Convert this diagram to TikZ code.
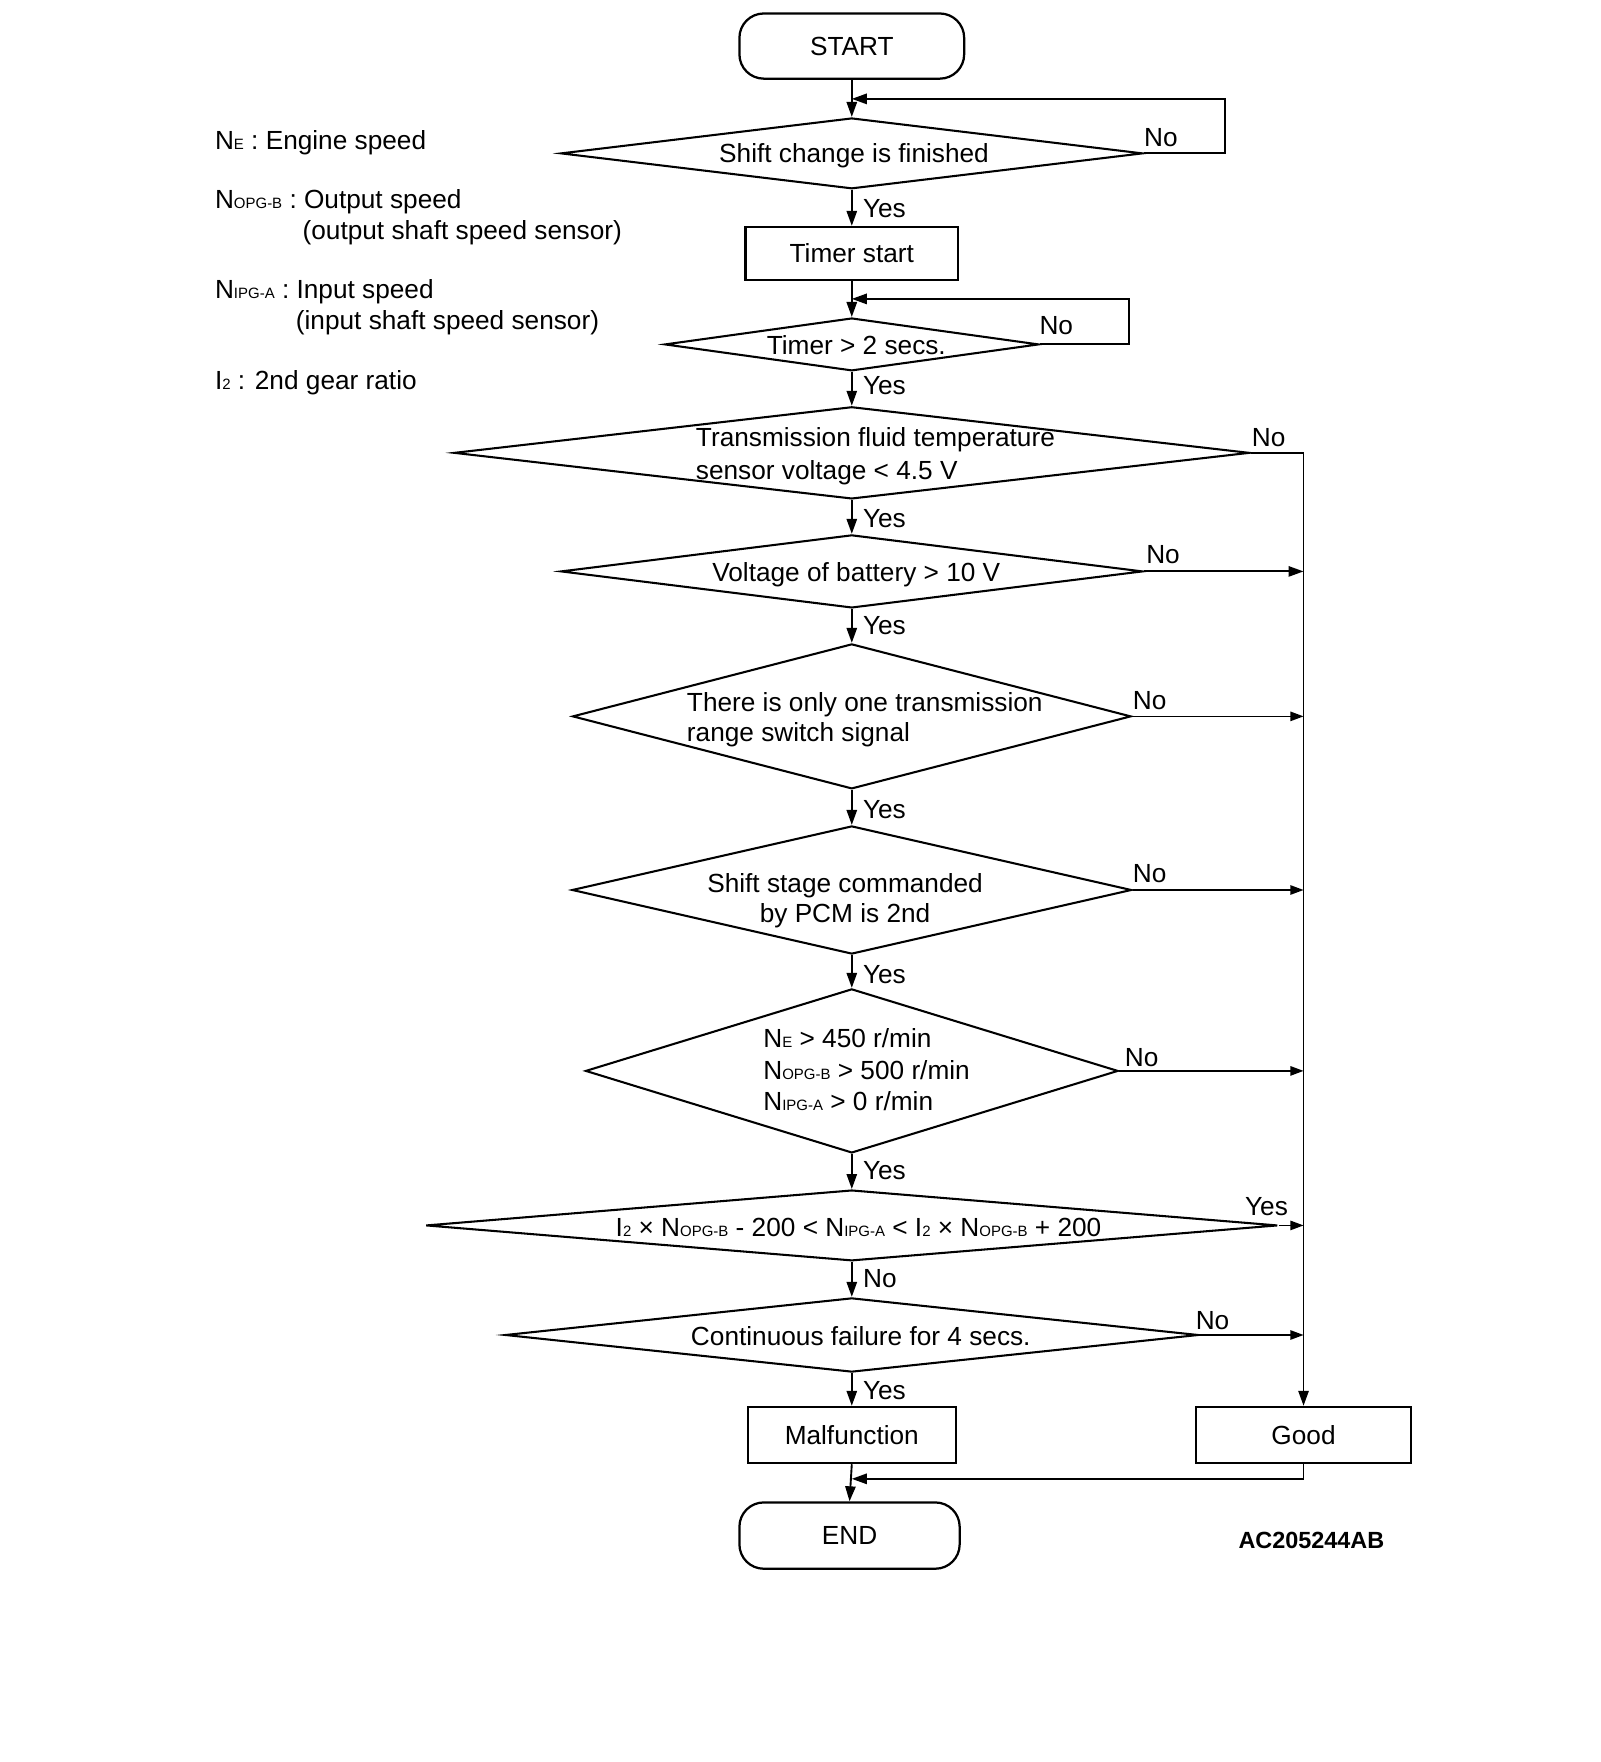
\documentclass[tikz,border=0pt]{standalone}
\usepackage{fontspec}
\setmainfont{Liberation Sans}
\usetikzlibrary{shapes.geometric,arrows.meta}
\newcommand{\sm}[1]{{\fontsize{8}{8}\selectfont #1}}
\begin{document}
\begin{tikzpicture}[x=0.6pt,y=-0.6pt,
  every node/.style={font=\fontsize{14}{17}\selectfont, inner sep=0pt},
  term/.style={draw, line width=1.2pt, rounded corners=13pt},
  proc/.style={draw, line width=1.2pt},
  dec/.style={draw, diamond, line width=1.1pt, inner sep=0pt},
  lab/.style={text height=10pt, text depth=0pt},
  conn/.style={line width=1pt},
  arr/.style={line width=1pt, -{Triangle[length=8pt,width=5.5pt]}},
  thinarr/.style={line width=0.8pt, -{Triangle[length=7pt,width=5pt]}},
]
\path[use as bounding box] (0,0) rectangle (1424,1568);

% legend
\node[lab, anchor=west] (leg1) at (191,125) {N\sm{E} : Engine speed};
\node[lab, anchor=west] (leg2) at (191,177) {N\sm{OPG-B} : Output speed};
\node[lab, anchor=west] (leg2b) at (269,205) {(output shaft speed sensor)};
\node[lab, anchor=west] (leg3) at (191,257) {N\sm{IPG-A} : Input speed};
\node[lab, anchor=west] (leg3b) at (263,285) {(input shaft speed sensor)};
\node[lab, anchor=west] (leg4) at (191,338) {I\sm{2} : 2nd gear ratio};

% terminals and boxes
\node[term, minimum width=120pt, minimum height=34.8pt] (start) at (758,41) {START};
\node[proc, minimum width=113.4pt, minimum height=28.2pt] (timer) at (758,225.5) {Timer start};
\node[proc, minimum width=111pt, minimum height=30pt] (malf) at (758,1277) {Malfunction};
\node[proc, minimum width=114.6pt, minimum height=30pt] (good) at (1160,1277) {Good};
\node[term, minimum width=117.6pt, minimum height=35.4pt] (end) at (756,1366.5) {END};

% decisions
\node[dec, minimum width=310.8pt, minimum height=37.8pt] (d1) at (758,136.5) {};
\node[dec, minimum width=199.8pt, minimum height=28.2pt] (d2) at (758,306.5) {};
\node[dec, minimum width=424.8pt, minimum height=49.2pt] (d3) at (758,403) {};
\node[dec, minimum width=310.8pt, minimum height=39pt] (d4) at (758,508.5) {};
\node[dec, minimum width=298.2pt, minimum height=77.4pt] (d5) at (758,637.5) {};
\node[dec, minimum width=298.8pt, minimum height=68.4pt] (d6) at (758,792) {};
\node[dec, minimum width=284.4pt, minimum height=87.6pt] (d7) at (758,953) {};
\node[dec, minimum width=454.8pt, minimum height=37.8pt] (d8) at (758,1090.5) {};
\node[dec, minimum width=370.2pt, minimum height=39.6pt] (d9) at (758,1188) {};

% decision texts
\node[lab] (t1) at (760,136) {Shift change is finished};
\node[lab] (t2) at (762,307) {Timer > 2 secs.};
\node[align=left, anchor=west, font=\fontsize{14}{17.4}\selectfont] (t3) at (619,406) {Transmission fluid temperature\\sensor voltage < 4.5 V};
\node[lab] (t4) at (762,509) {Voltage of battery > 10 V};
\node[align=left, anchor=west, font=\fontsize{14}{15.6}\selectfont] (t5) at (611,640.5) {There is only one transmission\\range switch signal};
\node[align=center, font=\fontsize{14}{15.6}\selectfont] (t6) at (752,801.5) {Shift stage commanded\\by PCM is 2nd};
\node[align=left, anchor=west, font=\fontsize{14}{16.8}\selectfont] (t7) at (679,952) {N\sm{E} > 450 r/min\\N\sm{OPG-B} > 500 r/min\\N\sm{IPG-A} > 0 r/min};
\node[lab] (t8) at (764,1092) {I\sm{2} × N\sm{OPG-B} - 200 < N\sm{IPG-A} < I\sm{2} × N\sm{OPG-B} + 200};
\node[lab] (t9) at (766,1189) {Continuous failure for 4 secs.};

% main flow
\coordinate (j1) at (758,88);
\coordinate (k1) at (1090,88);
\coordinate (j2) at (758,266);
\coordinate (k2) at (1005,266);
\coordinate (bus) at (1160,403);
\coordinate (j3) at (758,1316);

\draw[arr] (start.south) -- (d1.north);
\draw[arr] (d1.east) -| (k1) -- (j1);
\draw[arr] (d1.south) -- (timer.north);
\draw[arr] (timer.south) -- (d2.north);
\draw[arr] (d2.east) -| (k2) -- (j2);
\draw[arr] (d2.south) -- (d3.north);
\draw[conn] (d3.east) -- (bus);
\draw[arr] (bus) -- (good.north);
\draw[arr] (d3.south) -- (d4.north);
\draw[arr] (d4.east) -- (d4.east -| good.north);
\draw[arr] (d4.south) -- (d5.north);
\draw[thinarr] (d5.east) -- (d5.east -| good.north);
\draw[arr] (d5.south) -- (d6.north);
\draw[thinarr] (d6.east) -- (d6.east -| good.north);
\draw[arr] (d6.south) -- (d7.north);
\draw[thinarr] (d7.east) -- (d7.east -| good.north);
\draw[arr] (d7.south) -- (d8.north);
\draw[thinarr] (d8.east) -- (d8.east -| good.north);
\draw[arr] (d8.south) -- (d9.north);
\draw[thinarr] (d9.east) -- (d9.east -| good.north);
\draw[arr] (d9.south) -- (malf.north);
\draw[arr] (malf.south) -- (end.north);
\draw[arr] (good.south) |- (j3);

% branch labels
\node[lab] (n1) at (1033,122) {No};
\node[lab] (y1) at (787,185) {Yes};
\node[lab] (n2) at (940,289) {No};
\node[lab] (y2) at (787,343) {Yes};
\node[lab] (n3) at (1129,389) {No};
\node[lab] (y3) at (787,461) {Yes};
\node[lab] (n4) at (1035,493) {No};
\node[lab] (y4) at (787,556) {Yes};
\node[lab] (n5) at (1023,623) {No};
\node[lab] (y5) at (787,720) {Yes};
\node[lab] (n6) at (1023,777) {No};
\node[lab] (y6) at (787,867) {Yes};
\node[lab] (n7) at (1016,941) {No};
\node[lab] (y7) at (787,1041) {Yes};
\node[lab] (y8) at (1127,1073) {Yes};
\node[lab] (n8) at (783,1137) {No};
\node[lab] (n9) at (1079,1175) {No};
\node[lab] (y9) at (787,1237) {Yes};

\node[font=\fontsize{12.5}{15}\selectfont\bfseries, lab] (code) at (1167,1370) {AC205244AB};
\end{tikzpicture}
\end{document}
